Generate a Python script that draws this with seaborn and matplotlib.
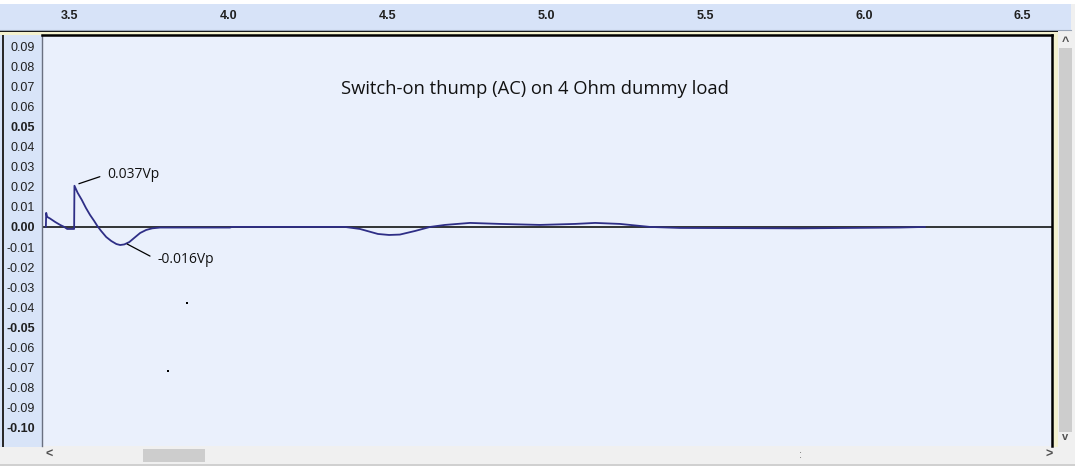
import matplotlib
matplotlib.use("Agg")
import matplotlib.pyplot as plt
from matplotlib.patches import Rectangle
import seaborn as sns

# waveform (seconds, volts)
t_sec = [3.424, 3.425, 3.428, 3.437, 3.453, 3.469, 3.482, 3.491, 3.513, 3.514,
         3.524, 3.537, 3.550, 3.563, 3.576, 3.586, 3.598, 3.614, 3.630, 3.646,
         3.658, 3.671, 3.687, 3.702, 3.721, 3.740, 3.759, 3.784, 4.004, 4.010,
         4.366, 4.413, 4.470, 4.505, 4.539, 4.587, 4.634, 4.681, 4.760, 4.854,
         4.980, 5.091, 5.154, 5.232, 5.327, 5.421, 5.799, 6.114, 6.193]
volts = [0.000, 0.007, 0.005, 0.0042, 0.0025, 0.001, 0.000, -0.001, -0.001, 0.0205,
         0.017, 0.0135, 0.0095, 0.006, 0.003, 0.0005, -0.002, -0.005, -0.007, -0.0085,
         -0.009, -0.0087, -0.0075, -0.0055, -0.003, -0.0015, -0.0007, -0.0003, -0.0003, 0.000,
         0.000, -0.001, -0.0035, -0.004, -0.0038, -0.002, 0.000, 0.001, 0.002, 0.0015,
         0.001, 0.0015, 0.002, 0.0015, 0.000, -0.0005, -0.0007, -0.0003, 0.000]

# two stray specks in the picture
speck_t = [3.868, 3.809]
speck_v = [-0.038, -0.0715]

y_ticks = [0.09, 0.08, 0.07, 0.06, 0.05, 0.04, 0.03, 0.02, 0.01, 0.00,
           -0.01, -0.02, -0.03, -0.04, -0.05, -0.06, -0.07, -0.08, -0.09, -0.10]
y_labels = ["0.09", "0.08", "0.07", "0.06", "0.05", "0.04", "0.03", "0.02", "0.01", "0.00",
            "-0.01", "-0.02", "-0.03", "-0.04", "-0.05", "-0.06", "-0.07", "-0.08", "-0.09", "-0.10"]
bold_labels = ["0.05", "0.00", "-0.05", "-0.10"]

ruler_major = [3.5, 4.0, 4.5, 5.0, 5.5, 6.0, 6.5]
ruler_labels = ["3.5", "4.0", "4.5", "5.0", "5.5", "6.0", "6.5"]
ruler_minor = [3.3 + 0.1 * i for i in range(34)]

title = "Switch-on thump (AC) on 4 Ohm dummy load"
peak_label = "0.037Vp"
trough_label = "-0.016Vp"

sns.set_style("white")
plt.rcParams["font.family"] = ["Liberation Sans", "DejaVu Sans"]

W, H = 1075, 466
fig = plt.figure(figsize=(W / 100, H / 100), dpi=100)
fig.patch.set_facecolor("#f0f0f0")


def px_rect(x0, y0, x1, y1):
    # pixel box (top-left origin) -> figure fraction rect
    return [x0 / W, 1 - y1 / H, (x1 - x0) / W, (y1 - y0) / H]


# background axes in pixel coords for the window chrome
bg = fig.add_axes([0, 0, 1, 1], zorder=-5)
bg.set_xlim(0, W)
bg.set_ylim(H, 0)
bg.axis("off")


def box(x0, y0, x1, y1, color):
    bg.add_patch(Rectangle((x0, y0), x1 - x0, y1 - y0, facecolor=color, edgecolor="none"))


box(0, 0, W, 4, "white")
box(0, 30, 1058, 32, "#101010")           # thick line under ruler
box(0, 32, 1058, 35, "#f3f1cf")           # yellowish border
box(1052, 32, 1058, 447, "#f3f1cf")
box(0, 35, 42, 447, "#d8e4f8")            # y label column
box(2, 35, 3.5, 447, "#2a2a2a")
box(0, 447, W, 464, "#f0f0f0")            # bottom scrollbar
box(143, 449, 205, 462, "#cdcdcd")
box(0, 464, W, 466, "#d0d0d0")
box(1058, 32, 1074, 447, "#f0f0f0")       # right scrollbar
box(1059, 48, 1072, 432, "#cdcdcd")
bg.text(45, 455, "<", fontsize=9, color="#505050", va="center", weight="bold")
bg.text(1046, 455, ">", fontsize=9, color="#505050", va="center", weight="bold")
bg.text(799, 455, ":", fontsize=8, color="#707070", va="center")
bg.text(1065, 42, "^", fontsize=9, color="#505050", va="center", ha="center", weight="bold")
bg.text(1065, 437, "v", fontsize=8, color="#505050", va="center", ha="center", weight="bold")

# time ruler
px_per_s = 317.5
rx = fig.add_axes(px_rect(0, 4, 1071, 30))
rx.set_facecolor("#d7e3f8")
rx.set_xlim(3.5 - 70 / px_per_s, 3.5 + 1001 / px_per_s)
rx.set_ylim(0, 1)
rx.set_yticks([])
rx.set_xticks(ruler_major)
rx.set_xticks(ruler_minor, minor=True)
rx.tick_params(axis="x", which="major", direction="in", length=5, width=1.2,
               color="#202020", labelbottom=False)
rx.tick_params(axis="x", which="minor", direction="in", length=3, width=1,
               color="#202020")
for tv, tl in zip(ruler_major, ruler_labels):
    rx.text(tv, 0.52, tl, ha="center", va="center", fontsize=9,
            weight="bold", color="#202020")
for s in ["top", "left", "right"]:
    rx.spines[s].set_visible(False)
rx.spines["bottom"].set_color("#9aa6b8")

# main waveform axes
ax = fig.add_axes(px_rect(42, 35, 1052, 446))
ax.set_facecolor("#eaf0fc")
x_lo = 3.5 - 28 / px_per_s
x_hi = 3.5 + 982 / px_per_s
ax.set_xlim(x_lo, x_hi)
ax.set_ylim(-0.109, 0.0955)

ax.axhline(0, color="black", lw=1.1, zorder=1)
sns.lineplot(x=t_sec, y=volts, ax=ax, color="#2e2e86", lw=1.3,
             estimator=None, sort=False, zorder=2)
sns.scatterplot(x=speck_t, y=speck_v, ax=ax, color="black", s=3, marker="s",
                linewidth=0)

ax.set_xticks([])
ax.set_yticks(y_ticks)
ax.set_yticklabels(y_labels)
ax.tick_params(axis="y", direction="out", length=3.5, width=1, color="#202020",
               labelsize=9, labelcolor="#202020", pad=1.5)
for lab in ax.get_yticklabels():
    if lab.get_text() in bold_labels:
        lab.set_fontweight("bold")
ax.set_xlabel("")
ax.set_ylabel("")

for s in ["top", "right"]:
    ax.spines[s].set_color("black")
    ax.spines[s].set_linewidth(1.8)
ax.spines["left"].set_color("#6a7080")
ax.spines["left"].set_linewidth(1)
ax.spines["bottom"].set_visible(False)

# annotations
ax.text(4.355, 0.0685, title, fontsize=13.2, family=["Open Sans", "DejaVu Sans"],
        color="#111111", va="center", ha="left")
ax.plot([3.528, 3.594], [0.0215, 0.025], color="black", lw=0.9)
ax.text(3.6165, 0.026, peak_label, fontsize=10, family=["Open Sans", "DejaVu Sans"],
        color="#111111", va="center", ha="left")
ax.plot([3.680, 3.752], [-0.0085, -0.0145], color="black", lw=0.9)
ax.text(3.777, -0.016, trough_label, fontsize=10, family=["Open Sans", "DejaVu Sans"],
        color="#111111", va="center", ha="left")

fig.savefig("out.png", dpi=100)
